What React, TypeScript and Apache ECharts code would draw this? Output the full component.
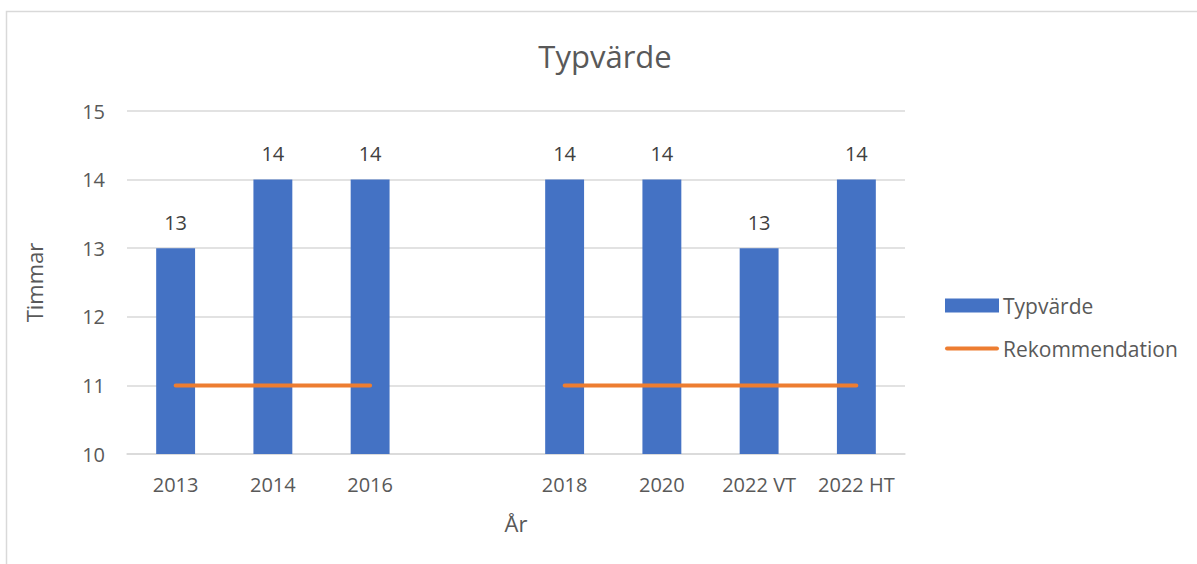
import React, { useEffect, useRef } from "react";
import * as echarts from "echarts";

const categories = ["2013", "2014", "2016", "", "2018", "2020", "2022 VT", "2022 HT"];
const typvarde = [13, 14, 14, null, 14, 14, 13, 14];
const rekommendation = [11, 11, 11, null, 11, 11, 11, 11];
const yTicks = { min: 10, max: 15, interval: 1 };

const FONT = "'Open Sans', 'Noto Sans', sans-serif";
const LINE_ICON = "path://M2,0 L52,0 A2,2 0 0 1 52,4 L2,4 A2,2 0 0 1 2,0 Z";

export default function App() {
  const ref = useRef<HTMLDivElement>(null);
  useEffect(() => {
    if (!ref.current) return;
    const chart = echarts.init(ref.current, undefined, { renderer: "svg" });
    chart.setOption({
      animation: false,
      backgroundColor: "#ffffff",
      textStyle: { fontFamily: FONT },
      graphic: [
        {
          type: "rect",
          shape: { x: 6.5, y: 11.5, width: 1300, height: 700 },
          style: { fill: "none", stroke: "#D9D9D9", lineWidth: 1.5 },
          silent: true,
        },
      ],
      title: {
        text: "Typvärde",
        left: 600,
        textAlign: "center",
        top: 35,
        textStyle: { fontFamily: FONT, fontSize: 31, fontWeight: "normal", color: "#595959" },
      },
      legend: {
        orient: "vertical",
        left: 940,
        top: 290,
        itemWidth: 54,
        itemHeight: 14,
        itemGap: 22,
        textStyle: { fontFamily: FONT, fontSize: 21, color: "#595959", padding: [0, 0, 0, -1] },
        data: [
          { name: "Typvärde", icon: "rect" },
          { name: "Rekommendation", icon: LINE_ICON },
        ],
      },
      grid: { left: 127, right: 292, top: 111, bottom: 110, containLabel: false },
      xAxis: {
        type: "category",
        data: categories,
        name: "År",
        nameLocation: "middle",
        nameGap: 58,
        nameTextStyle: { fontFamily: FONT, fontSize: 22, color: "#595959" },
        axisLine: { lineStyle: { color: "#D9D9D9", width: 1.5 } },
        axisTick: { show: false },
        axisLabel: { fontFamily: FONT, fontSize: 20, color: "#595959", margin: 20, interval: 0 },
      },
      yAxis: {
        type: "value",
        min: yTicks.min,
        max: yTicks.max,
        interval: yTicks.interval,
        name: "Timmar",
        nameLocation: "middle",
        nameGap: 82,
        nameTextStyle: { fontFamily: FONT, fontSize: 22, color: "#595959" },
        axisLine: { show: false },
        axisTick: { show: false },
        axisLabel: { fontFamily: FONT, fontSize: 20, color: "#595959", margin: 22 },
        splitLine: { lineStyle: { color: "#D9D9D9", width: 1.5 } },
      },
      series: [
        {
          name: "Typvärde",
          type: "bar",
          data: typvarde,
          barWidth: "40%",
          itemStyle: { color: "#4472C4" },
          label: {
            show: true,
            position: "top",
            distance: 16,
            fontFamily: FONT,
            fontSize: 20,
            color: "#404040",
          },
        },
        {
          name: "Rekommendation",
          type: "line",
          data: rekommendation,
          symbol: "none",
          connectNulls: false,
          lineStyle: { color: "#ED7D31", width: 4, cap: "round" },
          itemStyle: { color: "#ED7D31" },
        },
      ],
    });
    return () => chart.dispose();
  }, []);
  return (
    <div
      ref={ref}
      style={{ position: "fixed", left: 0, top: 0, width: 1197, height: 564 }}
    />
  );
}
